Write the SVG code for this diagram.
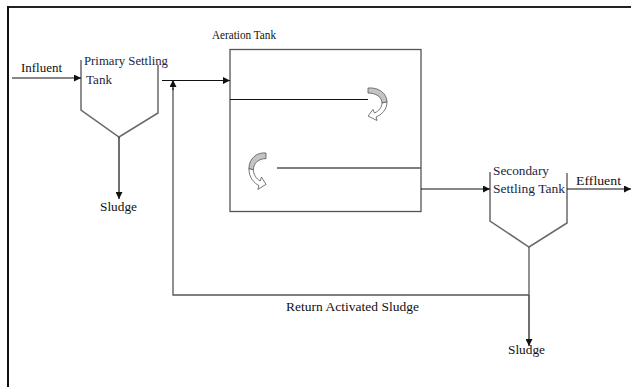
<svg xmlns="http://www.w3.org/2000/svg" width="631" height="387" viewBox="0 0 631 387">
<style>
  .t { font-family: "Liberation Serif", "Times New Roman", serif; font-size: 12.5px; fill: #111; }
  .tn { font-family: "Liberation Serif", "Times New Roman", serif; font-size: 12.5px; fill: #1c2440; }
  .wall { fill: none; stroke: #6a6a6a; stroke-width: 1.5; }
  .c { fill: none; stroke: #111; stroke-width: 1.2; }
  .g { fill: none; stroke: #555; stroke-width: 1.3; }
</style>
<defs>
  <marker id="ah" viewBox="0 0 10 10" refX="10" refY="5" markerWidth="7" markerHeight="7" markerUnits="userSpaceOnUse" orient="auto">
    <path d="M0,0 L10,5 L0,10 Z" fill="#111"/>
  </marker>
  <g id="curl">
    <path d="M0,0 C10,-1 19,5 19,14 L14,15 C14,9 8,5 0,5 Z" fill="#c4c4c4" stroke="#555" stroke-width="0.8"/>
    <path d="M19,14 C19,22 13,27 8,29 L9,32.5 L0,28 L5,21.5 L6.5,25 C11,23 14,19 14,15 Z" fill="#fff" stroke="#555" stroke-width="0.8"/>
  </g>
</defs>
<rect width="631" height="387" fill="#fff"/>
<g id="frame">
  <line x1="7" y1="7" x2="631" y2="7" stroke="#222" stroke-width="2"/>
  <line x1="8" y1="6" x2="8" y2="387" stroke="#111" stroke-width="2"/>
</g>
<g id="primary-tank">
  <path class="wall" d="M81,60 V110 L119,137 L158,113 V65"/>
  <text class="tn" x="84" y="65" textLength="84" lengthAdjust="spacingAndGlyphs">Primary Settling</text>
  <text class="tn" x="86" y="84" textLength="26" lengthAdjust="spacingAndGlyphs">Tank</text>
</g>
<g id="aeration-tank">
  <rect x="230" y="49.5" width="191" height="162" fill="none" stroke="#555" stroke-width="1.3"/>
  <text class="t" x="212" y="39" textLength="64" lengthAdjust="spacingAndGlyphs">Aeration Tank</text>
  <line class="c" x1="230" y1="99.5" x2="368" y2="99.5"/>
  <line class="g" x1="277" y1="168" x2="421" y2="168"/>
  <use href="#curl" transform="translate(368,88)"/>
  <use href="#curl" transform="translate(266,153) scale(-0.9,1.12)"/>
</g>
<g id="secondary-tank">
  <path class="wall" d="M490,172 V221 L529,247 L567,223 V173"/>
  <text class="tn" x="493" y="175" textLength="56" lengthAdjust="spacingAndGlyphs">Secondary</text>
  <text class="tn" x="493" y="193" textLength="72" lengthAdjust="spacingAndGlyphs">Settling Tank</text>
</g>
<g id="labels">
  <text class="t" x="21" y="72" textLength="41" lengthAdjust="spacingAndGlyphs">Influent</text>
  <text class="t" x="100" y="211" textLength="37" lengthAdjust="spacingAndGlyphs">Sludge</text>
  <text class="t" x="576" y="185" textLength="45" lengthAdjust="spacingAndGlyphs">Effluent</text>
  <text class="t" x="286" y="311" textLength="133" lengthAdjust="spacingAndGlyphs">Return Activated Sludge</text>
  <text class="t" x="508" y="354" textLength="37" lengthAdjust="spacingAndGlyphs">Sludge</text>
</g>
<g id="connectors">
  <line class="c" x1="12" y1="78" x2="81" y2="78" marker-end="url(#ah)"/>
  <line class="c" x1="119" y1="137" x2="119" y2="199" marker-end="url(#ah)"/>
  <line class="c" x1="162" y1="80.5" x2="230" y2="80.5" marker-end="url(#ah)"/>
  <line class="c" x1="421" y1="189" x2="490" y2="189" marker-end="url(#ah)"/>
  <line class="c" x1="567" y1="189" x2="631" y2="189" marker-end="url(#ah)"/>
  <line class="g" x1="529" y1="247" x2="529" y2="295"/>
  <line class="c" x1="529" y1="295" x2="529" y2="346" marker-end="url(#ah)"/>
  <polyline class="g" points="529,295 173,295 173,88"/>
  <line class="c" x1="173" y1="90" x2="173" y2="80" marker-end="url(#ah)"/>
</g>
</svg>
